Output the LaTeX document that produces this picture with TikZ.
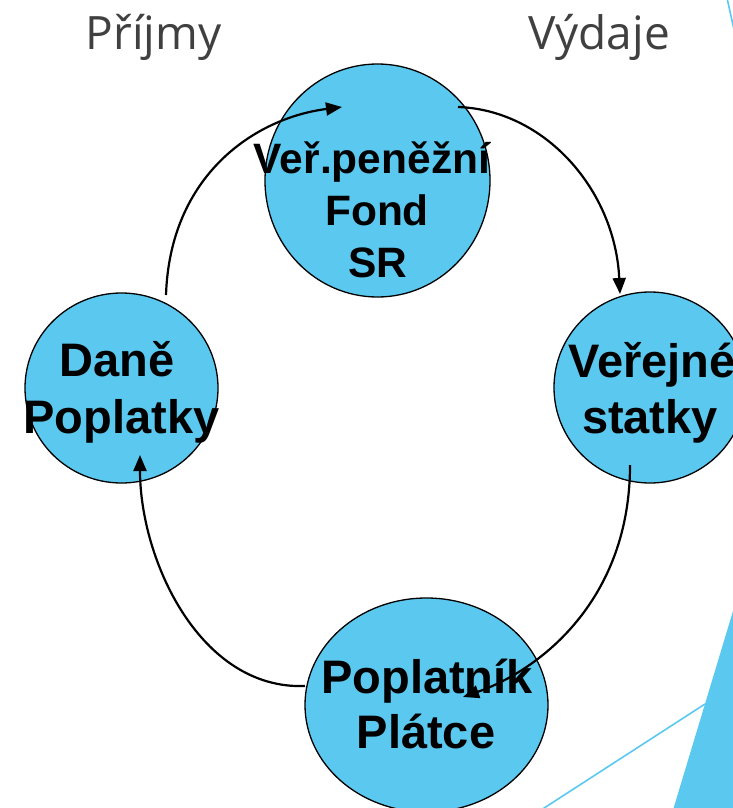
\documentclass[tikz,border=0pt]{standalone}
\usepackage{fontspec}
\setmainfont{Liberation Sans}
\newfontfamily\headfont{Open Sans}
\usetikzlibrary{shapes.geometric,arrows.meta}
\definecolor{bubblefill}{RGB}{91,201,239}
\definecolor{headgray}{RGB}{64,64,64}
\begin{document}
\begin{tikzpicture}[x=1pt,y=-1pt,
  circ/.style={ellipse, draw=black, line width=1.3pt, fill=bubblefill, inner sep=0pt},
  lbl/.style={anchor=base, font=\fontsize{47}{56}\selectfont\bfseries, inner sep=0pt},
  toplbl/.style={anchor=base, font=\fontsize{42.5}{52}\selectfont\bfseries, inner sep=0pt},
  head/.style={anchor=base, font=\headfont\fontsize{46}{55}\selectfont, text=headgray, inner sep=0pt},
  flow/.style={line width=2.2pt, -{Triangle[length=16pt,width=13pt]}},
  deco/.style={draw=bubblefill, line width=1.6pt}]
\useasboundingbox (0,0) rectangle (733,808);
\clip (0,0) rectangle (733,808);
% decoration
\fill[bubblefill] (733,611) -- (673,810) -- (735,810) -- cycle;
\coordinate (d1) at (705,704);
\coordinate (d2) at (541,810);
\draw[deco] (d1) -- (d2);
\coordinate (d3) at (727,-2);
\coordinate (d4) at (735,34);
\draw[deco] (d3) -- (d4);
% headings
\node[head] (inc) at (153.5,49) {Příjmy};
\node[head] (exp) at (599,49) {Výdaje};
% circles
\node[circ, minimum width=225pt, minimum height=233pt] (top) at (377.5,180.5) {};
\node[circ, minimum width=193pt, minimum height=190pt] (left) at (121.5,388) {};
\node[circ, minimum width=192pt, minimum height=191pt] (right) at (650,387.5) {};
\node[circ, minimum width=243pt, minimum height=214pt] (bot) at (426.5,705) {};
% labels
\node[toplbl] (t1) at (372,173) {Veř.peněžní};
\node[toplbl] (t2) at (377,225) {Fond};
\node[toplbl] (t3) at (378,277) {SR};
\node[lbl] (l1) at (117,376) {Daně};
\node[lbl] (l2) at (121.5,433) {Poplatky};
\node[lbl] (r1) at (652,377) {Veřejné};
\node[lbl] (r2) at (650,433) {statky};
\node[lbl] (b1) at (427,693) {Poplatník};
\node[lbl] (b2) at (426,748) {Plátce};
% connector ends
\coordinate (a1s) at (166,295);
\coordinate (a1e) at (342,107);
\coordinate (a2s) at (458,107);
\coordinate (a2e) at (620,294);
\coordinate (a3s) at (630,465);
\coordinate (a3e) at (463,697);
\coordinate (a4s) at (305,686);
\coordinate (a4e) at (140,455);
\draw[flow] (a1s) .. controls (170,175) and (255,118) .. (a1e);
\draw[flow] (a2s) .. controls (545,110) and (615,190) .. (a2e);
\draw[flow] (a3s) .. controls (630,600) and (540,670) .. (a3e);
\draw[flow] (a4s) .. controls (200,690) and (140,560) .. (a4e);
\end{tikzpicture}
\end{document}
